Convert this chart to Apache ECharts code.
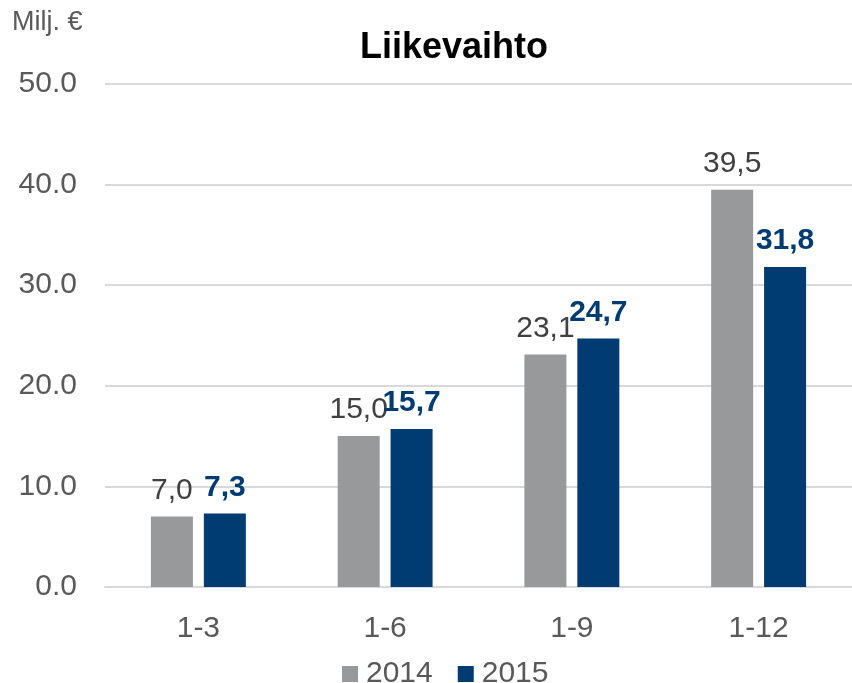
<!DOCTYPE html>
<html>
<head>
    <meta charset="UTF-8">
    <script type="text/javascript" src="https://cdn.jsdelivr.net/npm/echarts@6/dist/echarts.min.js"></script>
    <style type="text/css">
        *{
            margin: 0;
            padding: 0;
        }
        #main{
            width: 852px;
            height: 683px;
        }
    </style>
</head>
<body>
<div id="main"></div>
<script type="text/javascript">
    var periods = ['1-3', '1-6', '1-9', '1-12'];
    var sales2014 = [7.0, 15.0, 23.1, 39.5];
    var sales2015 = [7.3, 15.7, 24.7, 31.8];
    var seriesNames = ['2014', '2015'];

    var font = 'Arial, "Liberation Sans", sans-serif';
    var grey = '#98999b';
    var blue = '#003b71';

    function commaLabel(p) {
        return p.value.toFixed(1).replace('.', ',');
    }

    var myChart = echarts.init(document.getElementById('main'));
    var option = {
        animation: false,
        title: {
            text: 'Liikevaihto',
            left: 355,
            top: 25,
            textStyle: {
                fontFamily: font,
                fontSize: 36,
                fontWeight: 'bold',
                color: '#000'
            }
        },
        graphic: [{
            type: 'text',
            left: 12,
            top: 9,
            style: {
                text: 'Milj. €',
                fontFamily: font,
                fontSize: 27,
                fill: '#595959'
            }
        }],
        legend: {
            data: seriesNames,
            left: 337,
            top: 654,
            icon: 'rect',
            itemWidth: 16,
            itemHeight: 16,
            itemGap: 25,
            textStyle: {
                fontFamily: font,
                fontSize: 30,
                color: '#595959',
                padding: [0, 0, 0, 3]
            }
        },
        grid: {
            left: 105,
            top: 84,
            width: 749,
            bottom: 96
        },
        xAxis: {
            type: 'category',
            data: periods,
            axisLine: {lineStyle: {color: '#d9d9d9', width: 2}},
            axisTick: {show: false},
            axisLabel: {
                fontFamily: font,
                fontSize: 30,
                color: '#595959',
                margin: 27
            }
        },
        yAxis: {
            type: 'value',
            min: 0,
            max: 50,
            interval: 10,
            axisLine: {show: false},
            axisTick: {show: false},
            splitLine: {lineStyle: {color: '#d9d9d9', width: 2}},
            axisLabel: {
                fontFamily: font,
                fontSize: 30,
                color: '#595959',
                margin: 28,
                formatter: function (v) { return v.toFixed(1); }
            }
        },
        series: [
            {
                name: seriesNames[0],
                type: 'bar',
                data: sales2014,
                barWidth: 42,
                barGap: '26%',
                itemStyle: {color: grey},
                label: {
                    show: true,
                    position: 'top',
                    distance: 11,
                    formatter: commaLabel,
                    fontFamily: font,
                    fontSize: 30,
                    color: '#404040'
                }
            },
            {
                name: seriesNames[1],
                type: 'bar',
                data: sales2015,
                barWidth: 42,
                itemStyle: {color: blue},
                label: {
                    show: true,
                    position: 'top',
                    distance: 11,
                    formatter: commaLabel,
                    fontFamily: font,
                    fontSize: 30,
                    fontWeight: 'bold',
                    color: blue
                }
            }
        ]
    };
    myChart.setOption(option);
</script>
</body>
</html>
